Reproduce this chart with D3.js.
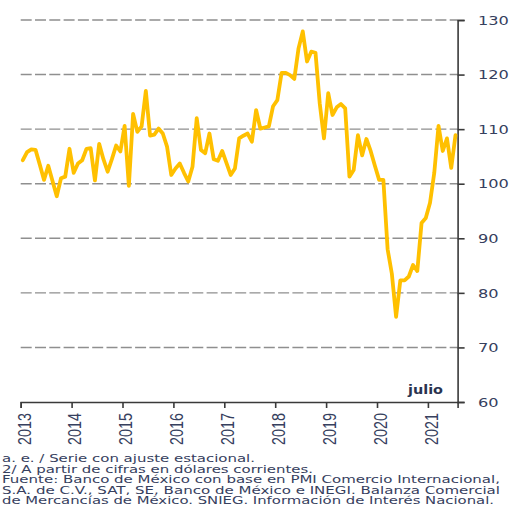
<!DOCTYPE html>
<html><head><meta charset="utf-8">
<script src="https://cdn.jsdelivr.net/npm/d3@7"></script>
<style>
html,body{margin:0;padding:0;background:#fff;}
svg{display:block;}
</style></head>
<body>
<svg id="chart" width="514" height="508"></svg>
<script>
// Monthly index, Jan 2013 .. Jul 2021 (a. e.)
const startYear = 2013;
const values = [
 104.3,105.8,106.3,106.2,103.5,100.7,103.3,100.5,97.7,101.0,101.3,106.4,
 102.0,103.7,104.3,106.4,106.5,100.6,107.3,104.5,102.2,104.5,107.0,105.9,
 110.6,99.6,112.8,109.5,110.5,117.0,108.8,109.0,110.1,109.2,106.8,101.6,
 102.8,103.7,102.0,100.4,103.1,112.0,106.2,105.6,109.2,104.5,104.2,106.0,
 103.8,101.6,102.8,108.3,108.8,109.2,107.7,113.5,110.1,110.3,110.5,114.2,
 115.3,120.3,120.3,119.9,119.2,124.8,127.9,122.4,124.2,124.0,114.7,108.3,
 116.6,112.6,114.0,114.6,113.8,101.3,102.5,108.9,105.2,108.2,106.0,103.3,
 100.7,100.7,88.0,83.5,75.6,82.3,82.3,83.0,85.1,84.0,92.8,93.7,
 96.5,102.0,110.6,106.0,108.3,102.9,108.9
];
const yearLabels = ["2013","2014","2015","2016","2017","2018","2019","2020","2021"];
const yTicks = [60,70,80,90,100,110,120,130];
const gridValues = [70,80,90,100,110,120,130];
const endLabel = "julio";
const footnotes = [
 "a. e. / Serie con ajuste estacional.",
 "2/ A partir de cifras en dólares corrientes.",
 "Fuente: Banco de México con base en PMI Comercio Internacional,",
 "S.A. de C.V., SAT, SE, Banco de México e INEGI. Balanza Comercial",
 "de Mercancías de México. SNIEG. Información de Interés Nacional."
];
const footWidths = [253, 311, 498, 498, 492];

const svg = d3.select("#chart");
const x = d3.scaleLinear().domain([0, values.length]).range([20.7, 457.6]);
const y = d3.scaleLinear().domain([60,130]).range([402,20]);
const textCol = "#36405e";

// gridlines
svg.append("g").selectAll("line").data(gridValues).join("line")
  .attr("x1", x(0)).attr("x2", x(values.length))
  .attr("y1", d=>y(d)).attr("y2", d=>y(d))
  .attr("stroke","#8f8f8f").attr("stroke-width",1.4)
  .attr("stroke-dasharray","11,3.3");

// x axis
const xTickVals = yearLabels.map((d,i)=>i*12);
const xAxis = d3.axisBottom(x).tickValues(xTickVals).tickSize(6).tickFormat("");
const gx = svg.append("g").attr("transform",`translate(0,${y(60)})`).call(xAxis);
gx.select(".domain").attr("stroke","#3a3a3a").attr("stroke-width",1.6);
gx.selectAll(".tick line").attr("stroke","#3a3a3a").attr("stroke-width",1.6);

svg.append("g").selectAll("text").data(yearLabels).join("text")
  .attr("transform",(d,i)=>`translate(${x(i*12)+3.5},${413}) scale(1.3,1) rotate(-90)`)
  .attr("text-anchor","end").attr("dy","0.35em")
  .attr("font-family","'Liberation Sans Narrow','Arial Narrow',sans-serif")
  .attr("font-size",14).attr("fill",textCol)
  .attr("textLength",32).attr("lengthAdjust","spacingAndGlyphs")
  .text(d=>d);

// y axis (right)
const yAxis = d3.axisRight(y).tickValues(yTicks).tickSize(7).tickFormat("");
const gy = svg.append("g").attr("transform",`translate(${x(values.length)},0)`).call(yAxis);
gy.select(".domain").attr("stroke","#3a3a3a").attr("stroke-width",1.6);
gy.selectAll(".tick line").attr("stroke","#3a3a3a").attr("stroke-width",1.6);

svg.append("g").selectAll("text").data(yTicks).join("text")
  .attr("x",478).attr("y",d=>y(d)).attr("dy","0.36em")
  .attr("font-family","'DejaVu Sans',Verdana,sans-serif")
  .attr("font-size",13).attr("fill",textCol)
  .attr("textLength",d=>String(d).length*10.3).attr("lengthAdjust","spacingAndGlyphs")
  .text(d=>d);

// line
const line = d3.line().x((d,i)=>x(i+0.5)).y(d=>y(d)).curve(d3.curveLinear);
svg.append("path").datum(values).attr("d",line)
  .attr("fill","none").attr("stroke","#FFC000").attr("stroke-width",3.8)
  .attr("stroke-linejoin","round").attr("stroke-linecap","round");

// julio label
svg.append("text").attr("x",408).attr("y",394)
  .attr("font-family","'DejaVu Sans',Verdana,sans-serif").attr("font-weight","bold")
  .attr("font-size",12.5).attr("fill","#2a3350")
  .attr("textLength",35).attr("lengthAdjust","spacingAndGlyphs")
  .text(endLabel);

// footnotes
svg.append("g").selectAll("text").data(footnotes).join("text")
  .attr("x",2).attr("y",(d,i)=>462+i*10.5)
  .attr("font-family","'DejaVu Sans',Verdana,sans-serif")
  .attr("font-size",10).attr("fill",textCol)
  .attr("textLength",(d,i)=>footWidths[i]).attr("lengthAdjust","spacingAndGlyphs")
  .text(d=>d);
</script>
</body></html>
